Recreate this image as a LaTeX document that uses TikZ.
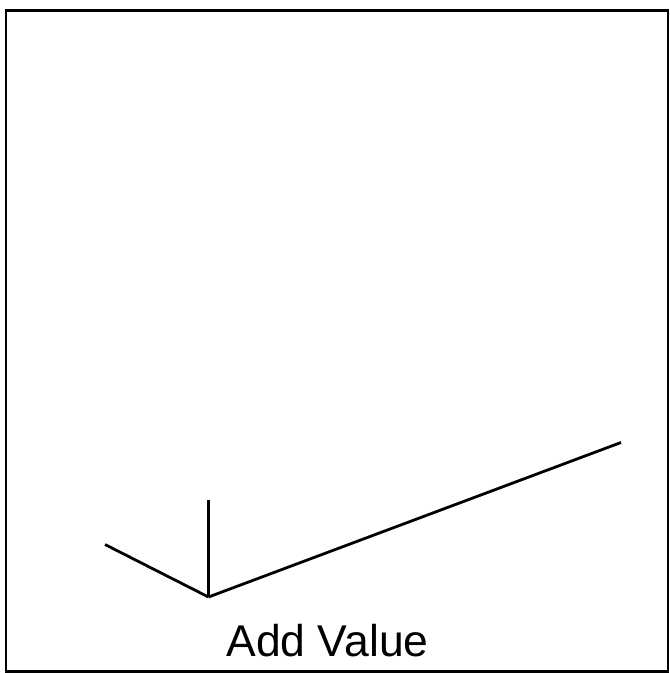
\documentclass[tikz,border=0pt]{standalone}
\usepackage{fontspec}
\setmainfont{Liberation Sans}
\begin{document}
\begin{tikzpicture}[x=1pt,y=-1pt,
  frame/.style={draw=black,line width=2.2pt},
  seg/.style={draw=black,line width=2.8pt},
  lbl/.style={font=\fontsize{44.5}{52}\selectfont,inner sep=0pt,anchor=base}]
\useasboundingbox (0,0) rectangle (670,673);
\draw[frame] (6,10.5) rectangle (668,671.5);
\coordinate (j) at (208.5,597);
\coordinate (l) at (105,544.5);
\coordinate (t) at (208.5,500);
\coordinate (r) at (621,442.5);
\draw[seg] (l) -- (j);
\draw[seg] (t) -- (j);
\draw[seg] (j) -- (r);
\node[lbl] (v) at (327.5,656) {Add Value};
\end{tikzpicture}
\end{document}
